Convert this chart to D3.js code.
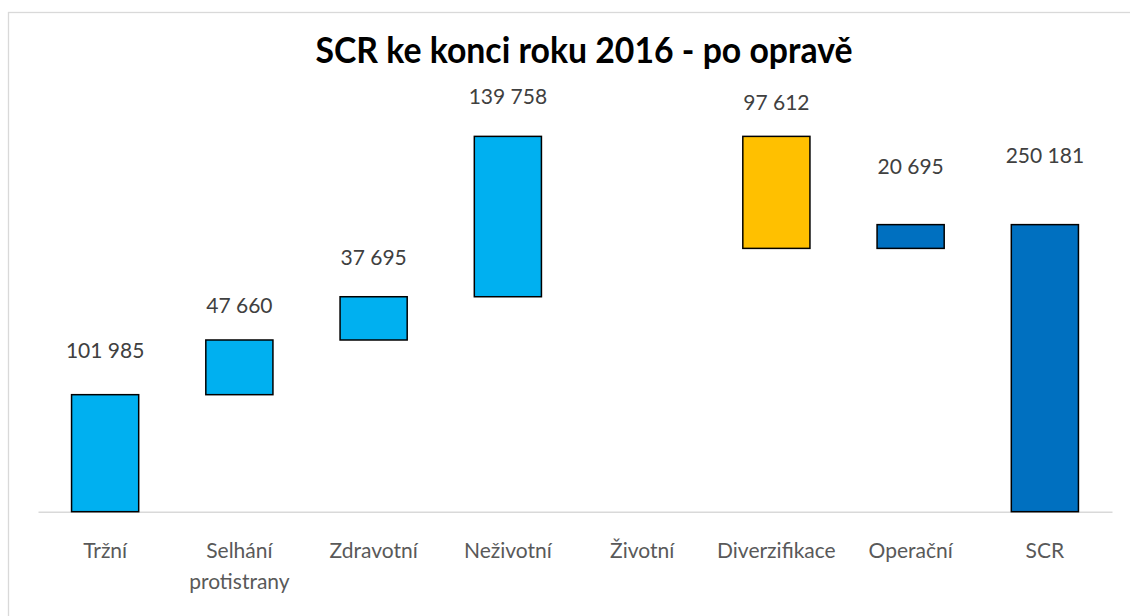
<!DOCTYPE html>
<html>
<head>
<meta charset="utf-8">
<script src="https://cdn.jsdelivr.net/npm/d3@7"></script>
<style>
	body { margin: 0; background: #fff; }
	svg { display: block; font-family: Lato, "Open Sans", sans-serif; }
</style>
</head>
<body>
<div id="chart"></div>
<script>
// chart data
var title = 'SCR ke konci roku 2016 - po opravě';
var categories = ['Tržní', 'Selhání protistrany', 'Zdravotní', 'Neživotní', 'Životní', 'Diverzifikace', 'Operační', 'SCR'];
var values = [101985, 47660, 37695, 139758, 0, -97612, 20695, 250181];
var groups = ['risk', 'risk', 'risk', 'risk', 'risk', 'diversification', 'operational', 'total'];
var yTicks = [0, 350000];

var colors = { risk: '#00B0F0', diversification: '#FFC000', operational: '#0070C0', total: '#0070C0' };
// distance between label baseline and bar top, Excel labels were placed by hand
var labelGap = [37, 27, 32, 32, 0, 26, 51, 62];

var width = 1130, height = 616;
var svg = d3.select('#chart').append('svg')
	.attr('width', width)
	.attr('height', height);

// chart frame
svg.append('rect')
	.attr('x', 8.5).attr('y', 12.5)
	.attr('width', 1200).attr('height', 700)
	.attr('fill', 'none')
	.attr('stroke', '#d9d9d9')
	.attr('stroke-width', 1.3);

var x = d3.scaleBand()
	.domain(categories)
	.range([38, 1112])
	.paddingInner(0.5)
	.paddingOuter(0.25);

var y = d3.scaleLinear()
	.domain([yTicks[0], yTicks[1]])
	.range([511.7, 110.1]);

// running totals for the waterfall
var running = 0;
var bars = categories.map(function(c, i) {
	var start, end;
	if (groups[i] === 'total') {
		start = 0;
		end = values[i];
	} else {
		start = running;
		end = running + values[i];
		running = end;
	}
	return { cat: c, value: values[i], group: groups[i], lo: Math.min(start, end), hi: Math.max(start, end), gap: labelGap[i] };
});

// title, squeezed to the narrow width it has in the original
svg.append('text')
	.attr('x', 584)
	.attr('y', 63)
	.attr('text-anchor', 'middle')
	.attr('font-weight', 'bold')
	.attr('font-size', 37)
	.attr('textLength', 537)
	.attr('lengthAdjust', 'spacingAndGlyphs')
	.attr('fill', '#000')
	.text(title);

// axis
var axis = svg.append('g')
	.attr('transform', 'translate(0,' + y(0) + ')')
	.call(d3.axisBottom(x).tickSize(0).tickPadding(31));
axis.select('.domain')
	.attr('stroke', '#d9d9d9')
	.attr('stroke-width', 1.5);
axis.selectAll('text')
	.attr('font-size', 21)
	.attr('font-family', 'Lato, "Open Sans", sans-serif')
	.attr('fill', '#595959')
	.each(function(d) {
		var words = d.split(' ');
		if (words.length > 1) {
			var el = d3.select(this).text(null);
			words.forEach(function(w, k) {
				el.append('tspan')
					.attr('x', 0)
					.attr('dy', k === 0 ? '0.71em' : 31)
					.text(w);
			});
			el.attr('dy', null);
		}
	});

// bars
svg.append('g').selectAll('rect')
	.data(bars.filter(function(b) { return b.value !== 0; }))
	.enter().append('rect')
	.attr('x', function(b) { return x(b.cat); })
	.attr('y', function(b) { return y(b.hi); })
	.attr('width', x.bandwidth())
	.attr('height', function(b) { return y(b.lo) - y(b.hi); })
	.attr('fill', function(b) { return colors[b.group]; })
	.attr('stroke', '#000')
	.attr('stroke-width', 1.5);

// data labels
var fmt = function(v) { return d3.format(',')(Math.abs(v)).replace(/,/g, ' '); };
svg.append('g').selectAll('text')
	.data(bars.filter(function(b) { return b.value !== 0; }))
	.enter().append('text')
	.attr('x', function(b) { return x(b.cat) + x.bandwidth() / 2; })
	.attr('y', function(b) { return y(b.hi) - b.gap; })
	.attr('text-anchor', 'middle')
	.attr('font-size', 21)
	.attr('fill', '#404040')
	.text(function(b) { return fmt(b.value); });
</script>
</body>
</html>
